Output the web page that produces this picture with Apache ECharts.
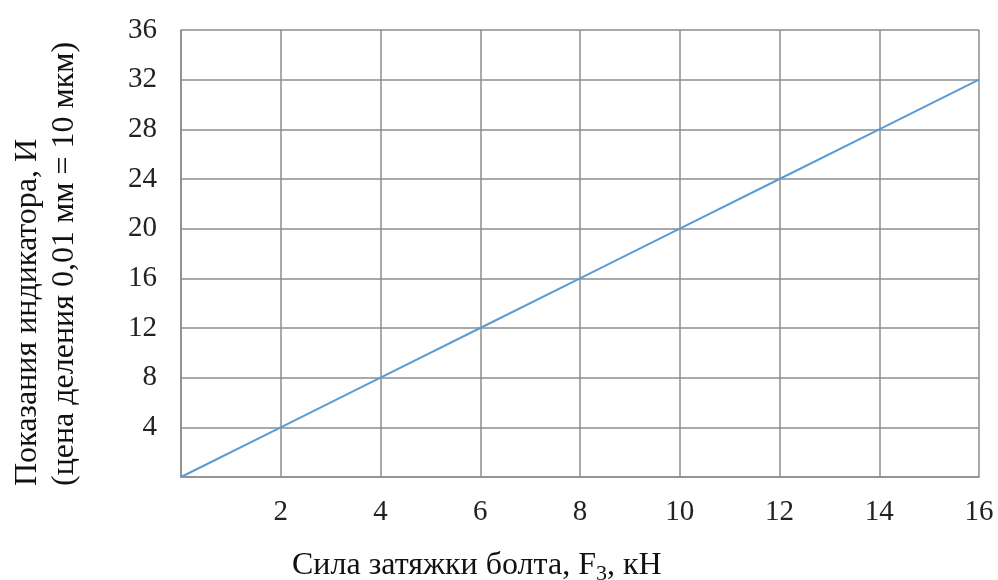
<!DOCTYPE html>
<html>
<head>
<meta charset="utf-8">
<script src="https://cdn.jsdelivr.net/npm/echarts@6/dist/echarts.min.js"></script>
<style>
  html, body { margin: 0; padding: 0; background: #fff; }
  #chart { width: 998px; height: 580px; }
</style>
</head>
<body>
<div id="chart"></div>
<script>
// усилие затяжки, кН
var force = [0, 2, 4, 6, 8, 10, 12, 14, 16];
// показания индикатора, дел.
var reading = [0, 4, 8, 12, 16, 20, 24, 28, 32];

var xTitle = 'Сила затяжки болта, F';
var yTitle1 = 'Показания индикатора, И';
var yTitle2 = '(цена деления 0,01 мм = 10 мкм)';

var serif = '"Liberation Serif", "Times New Roman", serif';
var gridColor = '#8c8c8c';

var chart = echarts.init(document.getElementById('chart'));

var option = {
  animation: false,
  backgroundColor: '#fff',
  grid: { left: 181, right: 19, top: 30, bottom: 103, containLabel: false },
  xAxis: {
    type: 'value',
    min: 0, max: 16, interval: 2,
    axisLine: { show: true, lineStyle: { color: gridColor, width: 1.5 } },
    axisTick: { show: false },
    splitLine: { show: true, lineStyle: { color: gridColor, width: 1.5 } },
    axisLabel: {
      margin: 21,
      fontFamily: serif, fontSize: 29, color: '#222',
      formatter: function (v) { return v === 0 ? '' : v; }
    }
  },
  yAxis: {
    type: 'value',
    min: 0, max: 36, interval: 4,
    axisLine: { show: true, lineStyle: { color: gridColor, width: 1.5 } },
    axisTick: { show: false },
    splitLine: { show: true, lineStyle: { color: gridColor, width: 1.5 } },
    axisLabel: {
      margin: 24,
      fontFamily: serif, fontSize: 29, color: '#222',
      padding: [0, 0, 8, 0],
      formatter: function (v) { return v === 0 ? '' : v; }
    }
  },
  series: [{
    type: 'line',
    data: force.map(function (f, i) { return [f, reading[i]]; }),
    showSymbol: false,
    lineStyle: { color: '#5b9bd5', width: 2 }
  }],
  graphic: [
    {
      type: 'text',
      left: 292, top: 550,
      style: {
        text: '{m|' + xTitle + '}{s|3}{m|, кН}',
        rich: {
          m: { fontFamily: serif, fontSize: 32, fill: '#111' },
          s: { fontFamily: serif, fontSize: 22, fill: '#111', padding: [16, 0, 0, 0] }
        }
      }
    },
    {
      type: 'text',
      x: 46, y: 486,
      rotation: Math.PI / 2,
      style: {
        text: yTitle1 + '\n' + yTitle2,
        fontFamily: serif, fontSize: 32, fill: '#111',
        align: 'left', verticalAlign: 'middle',
        lineHeight: 37
      }
    }
  ]
};

chart.setOption(option);
</script>
</body>
</html>
